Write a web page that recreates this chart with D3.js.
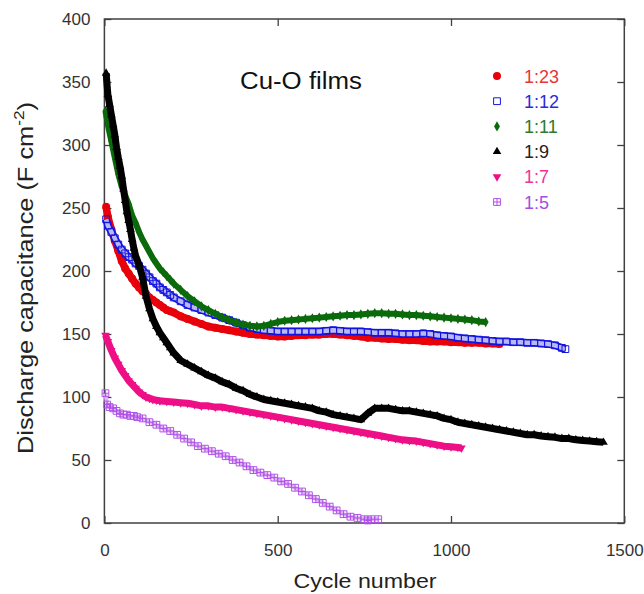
<!DOCTYPE html>
<html>
<head>
<meta charset="utf-8">
<script src="https://cdn.jsdelivr.net/npm/d3@7"></script>
<style>
body { margin: 0; background: #fff; }
</style>
</head>
<body>
<div id="chart"></div>
<script>
// values: [cycle, capacitance]
var s23 = [[5,251],[10,243],[20,233],[30,224],[40,216],[50,208],[60,202],[70,198],[80,194],[90,190],[100,187],[110,184],[120,182],[130,179],[140,177],[150,175],[160,173],[170,171],[180,169],[190,168],[200,167],[220,164],[240,162],[260,160],[280,158],[300,156],[320,155],[340,154],[360,153],[380,152],[400,151],[420,150],[440,149.5],[460,149],[480,148.5],[500,148],[520,148],[540,148.5],[560,149],[580,149],[600,149.5],[620,149.5],[640,150],[660,150],[680,149.5],[700,149],[720,148.5],[740,148],[760,147],[780,147],[800,146.5],[820,146],[840,146],[860,145.5],[880,145],[900,145],[920,144.5],[940,144],[960,144],[980,144],[1000,143.5],[1020,143.5],[1040,143],[1060,143],[1080,143],[1100,142.5],[1120,142.5],[1140,142]];
var s12 = [[5,241],[10,236],[20,231],[30,226],[40,221],[50,217],[60,214],[70,211],[80,209],[90,206],[100,204],[110,201],[120,198],[130,195],[140,192],[150,190],[160,187],[170,185],[180,183],[190,181],[200,179],[220,176],[240,173],[260,171],[280,169],[300,167],[320,165],[340,163],[360,161],[380,159],[400,157],[420,155],[440,154],[460,153],[480,152.5],[500,152],[520,152],[540,152],[560,152],[580,152],[600,152],[620,152],[640,152.5],[660,153],[680,152.5],[700,152],[720,152],[740,152],[760,151.5],[780,151],[800,151],[820,151],[840,150.5],[860,150],[880,150],[900,150],[920,150.5],[940,150],[960,149],[980,148.5],[1000,148],[1020,147],[1040,146.5],[1060,146],[1080,145.5],[1100,145],[1120,144.5],[1140,144],[1160,144],[1180,143.5],[1200,143.5],[1220,143],[1240,143],[1260,142.5],[1280,142],[1300,141],[1320,139],[1330,138]];
var s11 = [[3,327],[10,316],[20,303],[30,290],[40,277],[50,267],[60,260],[70,253],[80,244],[90,238],[100,231],[110,225],[120,220],[130,215],[140,210],[150,206],[160,202],[170,199],[180,196],[190,193],[200,190],[220,185],[240,180],[260,176],[280,172],[300,169],[320,166],[340,163],[360,161],[380,159],[400,157.5],[420,156.5],[440,156],[460,156.5],[480,158],[500,159.5],[520,160.5],[540,161],[560,161.5],[580,162],[600,162.5],[620,163],[640,163.5],[660,164],[680,164.5],[700,165],[720,165],[740,165.5],[760,166],[780,166.5],[800,166.5],[820,166],[840,166],[860,165.5],[880,165],[900,165],[920,164.5],[940,164],[960,163.5],[980,163],[1000,162.5],[1020,162],[1040,161.5],[1060,161],[1080,160],[1100,159.5]];
var s9 = [[5,357],[10,340],[15,332],[20,324],[25,316],[30,308],[35,298],[40,290],[45,283],[50,275],[55,265],[60,256],[65,247],[70,240],[75,233],[80,225],[85,218],[90,212],[100,205],[110,195],[120,180],[130,170],[140,162],[150,156],[160,151],[170,147],[180,143],[190,139],[200,135],[220,129],[240,126],[260,123],[280,120],[300,117],[320,115],[340,112],[360,110],[380,107],[400,105],[420,102],[440,100],[460,98],[480,97],[500,96],[520,95],[540,94],[560,93],[580,92],[600,91],[620,89],[640,88],[660,86],[680,85],[700,84],[720,83],[740,82],[760,87],[780,91],[800,91],[820,91],[840,90],[860,89],[880,89],[900,88],[920,87],[940,86],[960,85],[980,83],[1000,82],[1020,80],[1040,79],[1060,78],[1080,77],[1100,76],[1120,75],[1140,74],[1160,73],[1180,72],[1200,71],[1220,70],[1240,70],[1260,69],[1280,68.5],[1300,68],[1320,67],[1340,67],[1360,66],[1380,65.5],[1400,65],[1420,64.5],[1440,64]];
var s7 = [[3,149],[10,144],[20,137],[30,131],[40,126],[50,121],[60,117],[70,113],[80,110],[90,107],[100,104],[110,102],[120,100],[130,99],[140,98],[150,97.5],[160,97],[180,96.5],[200,96],[220,95.5],[240,95],[260,94],[280,93],[300,93],[320,92],[340,92],[360,91],[380,90],[400,89],[420,88],[440,87],[460,86],[480,85],[500,84],[520,83],[540,82],[560,81],[580,80],[600,79],[620,78],[640,77],[660,76],[680,75],[700,74],[720,73],[740,72],[760,71],[780,70],[800,69],[820,68],[840,67],[860,66],[880,65.5],[900,65],[920,64],[940,63],[960,62],[980,61],[1000,60.5],[1020,60],[1030,59.5]];
var s5 = [[3,103],[8,94],[15,92],[25,91],[35,89],[45,87],[55,86],[65,86],[75,85],[85,85],[95,84],[110,83],[130,80],[150,78],[170,75],[190,73],[210,70],[230,67],[250,64],[270,61],[290,59],[310,57],[330,55],[350,53],[370,50],[390,48],[410,45],[430,42],[450,40],[470,38],[490,36],[510,33],[530,31],[550,28],[570,25],[590,22],[610,19],[630,16],[650,13],[670,10],[690,7],[710,5],[730,4],[750,3],[760,2],[770,3],[790,3]];

var names = ["1:23", "1:12", "1:11", "1:9", "1:7", "1:5"];
var xTicks = [0, 500, 1000, 1500];
var yTicks = [0, 50, 100, 150, 200, 250, 300, 350, 400];

var series = [s23, s12, s11, s9, s7, s5];
var colors = ["#e8000b", "#1414e0", "#0b6a0b", "#000000", "#ee0f87", "#b050e8"];
var textColors = ["#e83535", "#2b2bd9", "#2d7a2d", "#222222", "#ee3399", "#a64de0"];
// the dense markers merge into a band in the original
var bands = [
  [{c: "#e8000b", w: 7.5}],
  [{c: "#1414e0", w: 7.5}, {c: "#b8b8f4", w: 4.5}],
  [{c: "#0b6a0b", w: 6}],
  [{c: "#000000", w: 7}],
  [{c: "#ee0f87", w: 7}],
  [{c: "#dcb8f2", w: 4}]
];

var w = 644, h = 594;
var font = "'Liberation Sans', Arial, sans-serif";

var svg = d3.select("#chart").append("svg")
  .attr("width", w)
  .attr("height", h)
  .style("background", "#fff");

var x = d3.scaleLinear().domain([0, 1500]).range([104.4, 624.3]);
var y = d3.scaleLinear().domain([0, 400]).range([523, 19]);

// square with a cross inside
var crossSquare = {
  draw: function(ctx, size) {
    var r = Math.sqrt(size) / 2;
    ctx.moveTo(-r, -r); ctx.lineTo(r, -r); ctx.lineTo(r, r); ctx.lineTo(-r, r); ctx.closePath();
    ctx.moveTo(0, -r); ctx.lineTo(0, r);
    ctx.moveTo(-r, 0); ctx.lineTo(r, 0);
  }
};

var markers = [
  {type: d3.symbolCircle, size: 50, fill: true, rot: 0},
  {type: d3.symbolSquare, size: 46, fill: false, rot: 0},
  {type: d3.symbolDiamond, size: 30, fill: true, rot: 0},
  {type: d3.symbolTriangle, size: 32, fill: true, rot: 0},
  {type: d3.symbolTriangle, size: 32, fill: true, rot: 180},
  {type: crossSquare, size: 46, fill: false, rot: 0}
];

function styleMark(sel, i) {
  var m = markers[i];
  sel.attr("d", d3.symbol().type(m.type).size(m.size)())
    .attr("fill", m.fill ? colors[i] : "none")
    .attr("stroke", colors[i])
    .attr("stroke-width", m.fill ? 0 : 1);
}

// axes
function styleAxis(g) {
  g.select(".domain").remove();
  g.selectAll(".tick line").attr("stroke", "#404040").attr("stroke-width", 1.3);
  g.selectAll("text").attr("fill", "#333").style("font-family", font).style("font-size", "17px");
}

svg.append("g").attr("transform", "translate(104.4,0)")
  .call(d3.axisLeft(y).tickValues(yTicks).tickSizeInner(-7).tickSizeOuter(0).tickPadding(14).tickFormat(d3.format("d")))
  .call(styleAxis);
svg.append("g").attr("transform", "translate(0,523)")
  .call(d3.axisBottom(x).tickValues(xTicks).tickSizeInner(-7).tickSizeOuter(0).tickPadding(21).tickFormat(d3.format("d")))
  .call(styleAxis);
svg.append("g").attr("transform", "translate(624.3,0)")
  .call(d3.axisRight(y).tickValues(yTicks).tickSizeInner(-7).tickSizeOuter(0).tickFormat(""))
  .call(styleAxis);
svg.append("g").attr("transform", "translate(0,19)")
  .call(d3.axisTop(x).tickValues(xTicks).tickSizeInner(-7).tickSizeOuter(0).tickFormat(""))
  .call(styleAxis);

svg.append("rect")
  .attr("x", x(0)).attr("y", y(400))
  .attr("width", x(1500) - x(0)).attr("height", y(0) - y(400))
  .attr("fill", "none").attr("stroke", "#404040").attr("stroke-width", 1.5);

// data
var line = d3.line().x(function(p) { return x(p[0]); }).y(function(p) { return y(p[1]); });

series.forEach(function(d, i) {
  var g = svg.append("g");
  bands[i].forEach(function(b) {
    g.append("path")
      .datum(d)
      .attr("d", line)
      .attr("fill", "none")
      .attr("stroke", b.c)
      .attr("stroke-width", b.w)
      .attr("stroke-linejoin", "round");
  });
  g.selectAll(".mk")
    .data(d)
    .enter()
    .append("path")
    .attr("class", "mk")
    .attr("transform", function(p) {
      return "translate(" + x(p[0]) + "," + y(p[1]) + ")" + (markers[i].rot ? " rotate(" + markers[i].rot + ")" : "");
    })
    .call(styleMark, i);
});

// legend
var legend = svg.append("g");
names.forEach(function(n, i) {
  var ly = 76 + i * 25.2;
  legend.append("path")
    .attr("transform", "translate(497," + ly + ")" + (markers[i].rot ? " rotate(180)" : ""))
    .call(styleMark, i);
  legend.append("text")
    .attr("x", 524).attr("y", ly + 6.5)
    .style("font-family", font).style("font-size", "18px")
    .attr("fill", textColors[i])
    .text(n);
});

// titles
svg.append("text")
  .attr("x", 240).attr("y", 89)
  .attr("textLength", 122).attr("lengthAdjust", "spacingAndGlyphs")
  .style("font-family", font).style("font-size", "23px").attr("fill", "#111")
  .text("Cu-O films");

svg.append("text")
  .attr("x", 365).attr("y", 588)
  .attr("text-anchor", "middle")
  .attr("textLength", 143).attr("lengthAdjust", "spacingAndGlyphs")
  .style("font-family", font).style("font-size", "20px").attr("fill", "#222")
  .text("Cycle number");

var yl = svg.append("text")
  .attr("transform", "translate(33,278) rotate(-90)")
  .attr("text-anchor", "middle")
  .attr("textLength", 352).attr("lengthAdjust", "spacingAndGlyphs")
  .style("font-family", font).style("font-size", "22px").attr("fill", "#222");
yl.append("tspan").text("Discharge capacitance (F cm");
yl.append("tspan").attr("dy", -9).style("font-size", "15px").text("-2");
yl.append("tspan").attr("dy", 9).text(")");
</script>
</body>
</html>
